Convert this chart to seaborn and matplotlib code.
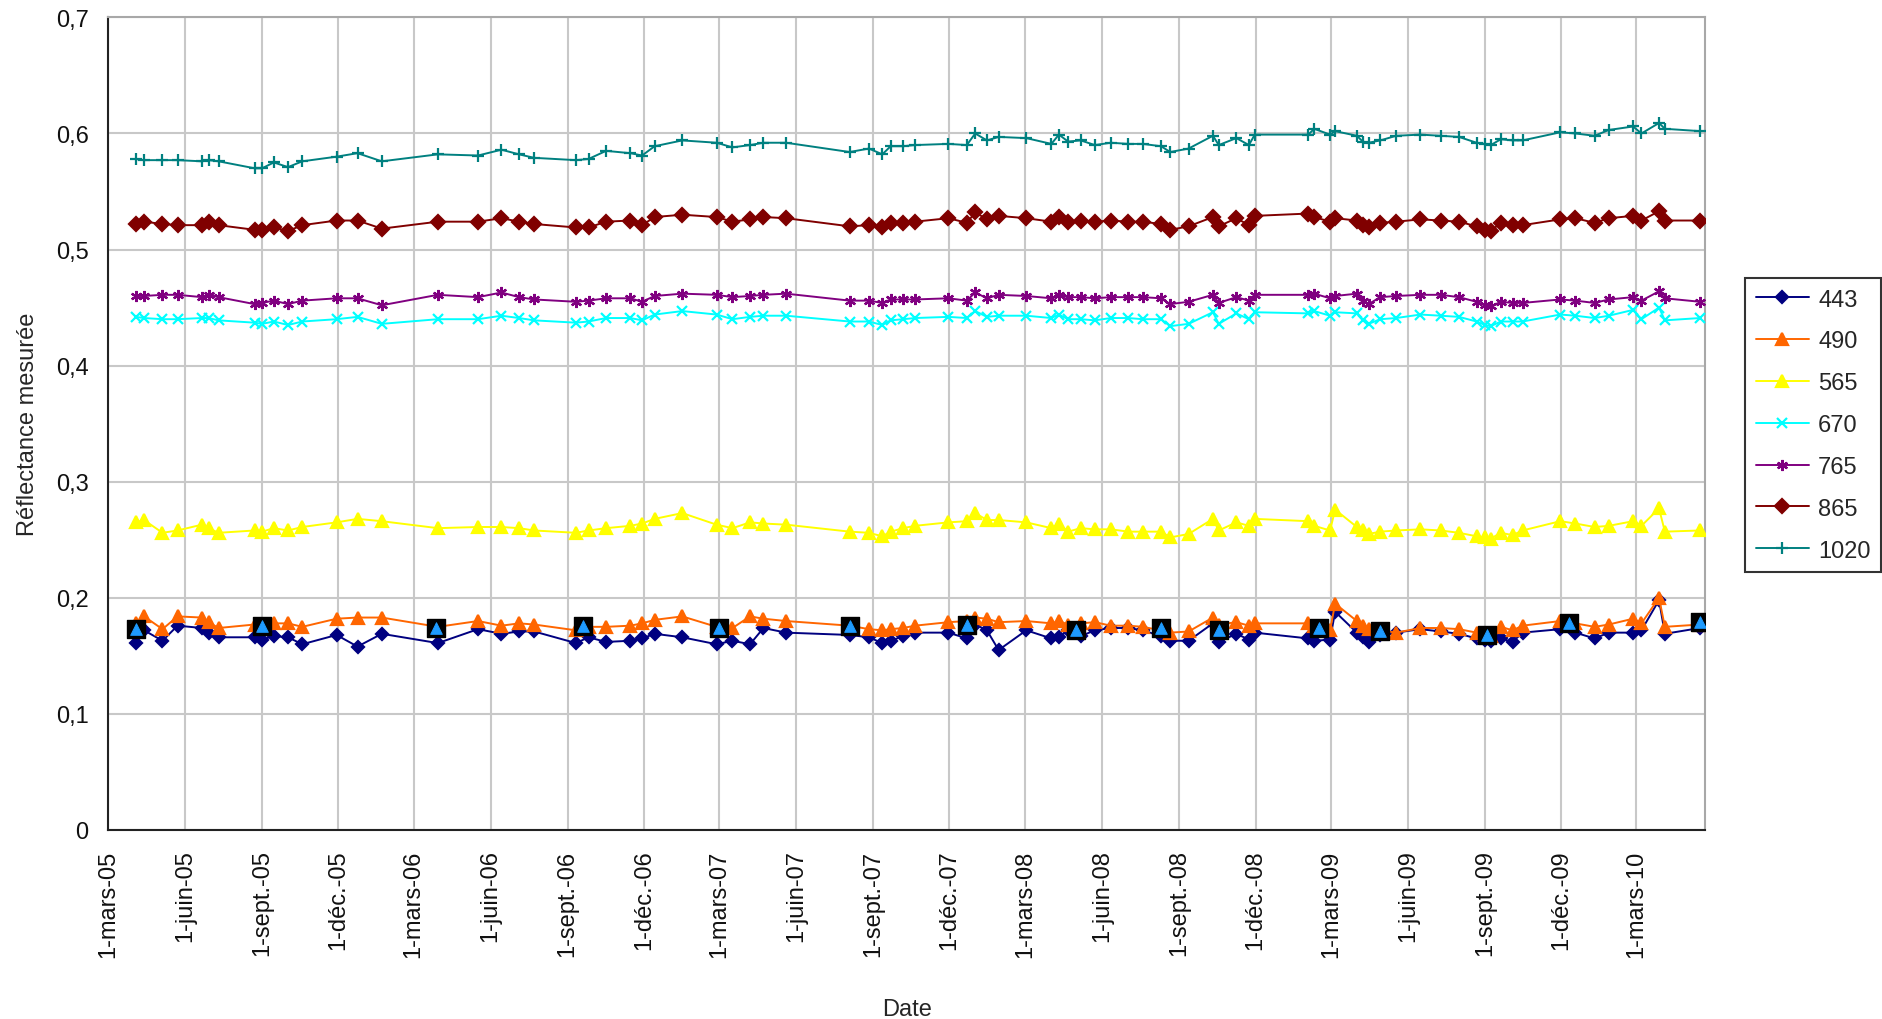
import matplotlib
matplotlib.use("Agg")
import matplotlib.pyplot as plt
import seaborn as sns
import pandas as pd

# ---------------- data ----------------
dates = [
    "2005-04-03", "2005-04-13", "2005-05-05", "2005-05-23", "2005-06-21", "2005-06-29", "2005-07-11",
    "2005-08-23", "2005-09-01", "2005-09-15", "2005-10-02", "2005-10-19", "2005-11-29", "2005-12-24",
    "2006-01-22", "2006-03-30", "2006-05-17", "2006-06-14", "2006-07-05", "2006-07-23", "2006-09-11",
    "2006-09-26", "2006-10-17", "2006-11-15", "2006-11-29", "2006-12-14",
    "2007-01-16", "2007-02-26", "2007-03-17", "2007-04-07", "2007-04-23", "2007-05-20", "2007-08-04",
    "2007-08-27", "2007-09-12", "2007-09-22", "2007-10-07", "2007-10-21", "2007-11-30", "2007-12-22",
    "2008-01-01", "2008-01-15", "2008-01-29", "2008-03-02", "2008-04-01", "2008-04-10", "2008-04-21",
    "2008-05-06", "2008-05-23", "2008-06-11", "2008-07-02", "2008-07-19", "2008-08-10", "2008-08-21",
    "2008-09-12", "2008-10-11", "2008-10-18", "2008-11-08", "2008-11-23", "2008-11-30",
    "2009-02-02", "2009-02-09", "2009-02-28", "2009-03-06", "2009-04-01", "2009-04-08", "2009-04-15",
    "2009-04-29", "2009-05-18", "2009-06-16", "2009-07-10", "2009-08-01", "2009-08-22", "2009-09-01",
    "2009-09-08", "2009-09-20", "2009-10-04", "2009-10-16", "2009-11-30", "2009-12-18",
    "2010-01-10", "2010-01-27", "2010-02-25", "2010-03-07", "2010-03-28", "2010-04-04", "2010-05-16",
]

r443 = [0.161, 0.172, 0.163, 0.176, 0.174, 0.170, 0.166, 0.166, 0.164, 0.167, 0.166, 0.160, 0.168, 0.158,
        0.169, 0.161, 0.173, 0.169, 0.171, 0.171, 0.161, 0.166, 0.162, 0.163, 0.165, 0.169,
        0.166, 0.160, 0.163, 0.160, 0.174, 0.170, 0.168, 0.166, 0.161, 0.163, 0.167, 0.170, 0.170, 0.165,
        0.177, 0.172, 0.155, 0.172, 0.165, 0.166, 0.172, 0.167, 0.172, 0.174, 0.174, 0.172, 0.167, 0.163,
        0.163, 0.178, 0.162, 0.169, 0.164, 0.170,
        0.165, 0.163, 0.164, 0.188, 0.170, 0.166, 0.162, 0.168, 0.170, 0.173, 0.171, 0.169, 0.165, 0.164,
        0.163, 0.165, 0.162, 0.170, 0.173, 0.170,
        0.165, 0.170, 0.170, 0.172, 0.198, 0.169, 0.174]

r490 = [0.178, 0.184, 0.173, 0.184, 0.183, 0.179, 0.174, 0.177, 0.176, 0.178, 0.178, 0.175, 0.182, 0.183,
        0.183, 0.175, 0.180, 0.176, 0.178, 0.177, 0.172, 0.175, 0.175, 0.176, 0.178, 0.181,
        0.184, 0.175, 0.174, 0.184, 0.182, 0.180, 0.176, 0.173, 0.172, 0.173, 0.174, 0.176, 0.179, 0.180,
        0.183, 0.182, 0.179, 0.180, 0.178, 0.180, 0.177, 0.178, 0.179, 0.176, 0.176, 0.175, 0.172, 0.170,
        0.171, 0.183, 0.177, 0.179, 0.176, 0.178,
        0.178, 0.176, 0.172, 0.195, 0.180, 0.176, 0.173, 0.172, 0.170, 0.174, 0.174, 0.173, 0.170, 0.168,
        0.167, 0.175, 0.172, 0.176, 0.180, 0.178,
        0.175, 0.177, 0.182, 0.178, 0.200, 0.175, 0.177]

r565 = [0.265, 0.267, 0.256, 0.258, 0.263, 0.260, 0.256, 0.258, 0.257, 0.260, 0.258, 0.261, 0.265, 0.268,
        0.266, 0.260, 0.261, 0.261, 0.260, 0.258, 0.256, 0.258, 0.260, 0.262, 0.264, 0.268,
        0.273, 0.263, 0.260, 0.265, 0.264, 0.263, 0.257, 0.256, 0.253, 0.257, 0.260, 0.262, 0.265, 0.266,
        0.273, 0.267, 0.267, 0.265, 0.260, 0.264, 0.257, 0.260, 0.259, 0.259, 0.257, 0.257, 0.257, 0.252,
        0.255, 0.268, 0.258, 0.265, 0.262, 0.268,
        0.266, 0.262, 0.258, 0.276, 0.261, 0.258, 0.255, 0.257, 0.258, 0.259, 0.258, 0.256, 0.253, 0.252,
        0.251, 0.256, 0.254, 0.258, 0.266, 0.264,
        0.261, 0.262, 0.266, 0.262, 0.277, 0.257, 0.258]

r670 = [0.442, 0.441, 0.440, 0.440, 0.441, 0.441, 0.439, 0.437, 0.436, 0.438, 0.435, 0.438, 0.440, 0.442,
        0.436, 0.440, 0.440, 0.443, 0.441, 0.439, 0.437, 0.438, 0.441, 0.441, 0.439, 0.444,
        0.447, 0.444, 0.440, 0.442, 0.443, 0.443, 0.438, 0.438, 0.435, 0.439, 0.440, 0.441, 0.442, 0.441,
        0.447, 0.442, 0.443, 0.443, 0.441, 0.444, 0.440, 0.440, 0.439, 0.441, 0.441, 0.440, 0.440, 0.434,
        0.436, 0.446, 0.436, 0.445, 0.440, 0.446,
        0.445, 0.447, 0.443, 0.446, 0.445, 0.439, 0.436, 0.440, 0.441, 0.444, 0.443, 0.442, 0.438, 0.435,
        0.434, 0.438, 0.438, 0.438, 0.444, 0.443,
        0.441, 0.443, 0.448, 0.440, 0.450, 0.439, 0.441]

r765 = [0.460, 0.460, 0.461, 0.461, 0.459, 0.461, 0.459, 0.453, 0.454, 0.456, 0.453, 0.456, 0.458, 0.458,
        0.452, 0.461, 0.459, 0.463, 0.459, 0.457, 0.455, 0.456, 0.458, 0.458, 0.455, 0.460,
        0.462, 0.461, 0.459, 0.460, 0.461, 0.462, 0.456, 0.456, 0.454, 0.457, 0.457, 0.457, 0.458, 0.456,
        0.463, 0.458, 0.461, 0.460, 0.458, 0.461, 0.459, 0.459, 0.458, 0.459, 0.459, 0.459, 0.458, 0.453,
        0.455, 0.461, 0.454, 0.459, 0.456, 0.461,
        0.461, 0.462, 0.458, 0.460, 0.462, 0.456, 0.453, 0.459, 0.460, 0.461, 0.461, 0.459, 0.455, 0.452,
        0.451, 0.455, 0.454, 0.454, 0.457, 0.456,
        0.454, 0.457, 0.459, 0.456, 0.464, 0.458, 0.455]

r865 = [0.522, 0.524, 0.522, 0.521, 0.521, 0.524, 0.521, 0.517, 0.517, 0.519, 0.516, 0.521, 0.525, 0.525,
        0.518, 0.524, 0.524, 0.527, 0.524, 0.522, 0.519, 0.519, 0.524, 0.525, 0.521, 0.528,
        0.530, 0.528, 0.524, 0.526, 0.528, 0.527, 0.520, 0.521, 0.519, 0.523, 0.523, 0.524, 0.527, 0.523,
        0.532, 0.526, 0.529, 0.527, 0.524, 0.528, 0.524, 0.525, 0.524, 0.525, 0.524, 0.524, 0.522, 0.517,
        0.520, 0.528, 0.520, 0.527, 0.521, 0.529,
        0.531, 0.528, 0.524, 0.527, 0.525, 0.521, 0.519, 0.523, 0.524, 0.526, 0.525, 0.524, 0.520, 0.517,
        0.516, 0.523, 0.521, 0.521, 0.526, 0.527,
        0.523, 0.527, 0.529, 0.525, 0.533, 0.525, 0.525]

r1020 = [0.578, 0.577, 0.577, 0.577, 0.576, 0.577, 0.576, 0.570, 0.570, 0.575, 0.571, 0.576, 0.580, 0.583,
         0.576, 0.582, 0.581, 0.586, 0.582, 0.579, 0.577, 0.578, 0.585, 0.583, 0.581, 0.589,
         0.594, 0.592, 0.588, 0.590, 0.592, 0.592, 0.584, 0.587, 0.582, 0.589, 0.589, 0.590, 0.591, 0.590,
         0.600, 0.594, 0.597, 0.596, 0.591, 0.599, 0.593, 0.594, 0.590, 0.592, 0.591, 0.591, 0.589, 0.584,
         0.587, 0.598, 0.590, 0.596, 0.590, 0.599,
         0.599, 0.604, 0.599, 0.602, 0.598, 0.593, 0.592, 0.594, 0.598, 0.599, 0.598, 0.597, 0.592, 0.591,
         0.590, 0.595, 0.594, 0.594, 0.601, 0.600,
         0.598, 0.603, 0.606, 0.600, 0.609, 0.604, 0.602]

# reference points (black squares with blue triangles, not in legend)
ref_dates = ["2005-04-03", "2005-09-01", "2006-03-28", "2006-09-20", "2007-03-01", "2007-08-04",
             "2007-12-22", "2008-05-01", "2008-08-10", "2008-10-18", "2009-02-15", "2009-04-29",
             "2009-09-04", "2009-12-10", "2010-05-16"]
ref_vals = [0.173, 0.176, 0.174, 0.176, 0.174, 0.176, 0.177, 0.172, 0.174, 0.172, 0.174, 0.171,
            0.168, 0.178, 0.179]

series_names = ["443", "490", "565", "670", "765", "865", "1020"]
series_vals = [r443, r490, r565, r670, r765, r865, r1020]

tick_dates = ["2005-03-01", "2005-06-01", "2005-09-01", "2005-12-01", "2006-03-01", "2006-06-01",
              "2006-09-01", "2006-12-01", "2007-03-01", "2007-06-01", "2007-09-01", "2007-12-01",
              "2008-03-01", "2008-06-01", "2008-09-01", "2008-12-01", "2009-03-01", "2009-06-01",
              "2009-09-01", "2009-12-01", "2010-03-01"]
tick_labels = ["1-mars-05", "1-juin-05", "1-sept.-05", "1-déc.-05", "1-mars-06", "1-juin-06",
               "1-sept.-06", "1-déc.-06", "1-mars-07", "1-juin-07", "1-sept.-07", "1-déc.-07",
               "1-mars-08", "1-juin-08", "1-sept.-08", "1-déc.-08", "1-mars-09", "1-juin-09",
               "1-sept.-09", "1-déc.-09", "1-mars-10"]
y_ticks = [0, 0.1, 0.2, 0.3, 0.4, 0.5, 0.6, 0.7]
y_labels = ["0", "0,1", "0,2", "0,3", "0,4", "0,5", "0,6", "0,7"]

# ---------------- style ----------------
sns.set_theme(style="white")
plt.rcParams["font.family"] = ["Liberation Sans", "DejaVu Sans"]

styles = {
    "443": dict(color="#000080", marker="D", ms=6.5),
    "490": dict(color="#FF6600", marker="^", ms=8),
    "565": dict(color="#FFFF00", marker="^", ms=8),
    "670": dict(color="#00FFFF", marker="x", ms=7),
    "765": dict(color="#800080", marker=(6, 2, 0), ms=8),
    "865": dict(color="#800000", marker="D", ms=7),
    "1020": dict(color="#008080", marker="+", ms=9),
}

fig = plt.figure(figsize=(18.83, 10.20), dpi=100)
ax = fig.add_axes([0.0574, 0.1853, 0.8481, 0.7967])

df = pd.DataFrame({"date": pd.to_datetime(dates)})
for name, vals in zip(series_names, series_vals):
    st = styles[name]
    sns.lineplot(x=df["date"], y=vals, ax=ax, color=st["color"], marker=st["marker"],
                 markersize=st["ms"], markeredgecolor=st["color"], markerfacecolor=st["color"],
                 markeredgewidth=1.6, linewidth=1.4, label=name, zorder=3)

rdf = pd.DataFrame({"date": pd.to_datetime(ref_dates), "val": ref_vals})
sns.scatterplot(data=rdf, x="date", y="val", ax=ax, marker="s", s=150, color="black",
                edgecolor="black", zorder=5, legend=False)
sns.scatterplot(data=rdf, x="date", y="val", ax=ax, marker="^", s=70, color="#1E9BFF",
                edgecolor="#1E9BFF", zorder=6, legend=False)

handles, labels = ax.get_legend_handles_labels()
if ax.get_legend() is not None:
    ax.get_legend().remove()

ax.set_xlim(pd.Timestamp("2005-03-01"), pd.Timestamp("2010-05-22"))
ax.set_ylim(0, 0.7)
ax.set_xticks(pd.to_datetime(tick_dates))
ax.set_xticklabels(tick_labels, rotation=90, fontsize=17)
ax.set_yticks(y_ticks)
ax.set_yticklabels(y_labels, fontsize=17, color="#111111")
ax.tick_params(axis="both", direction="out", length=8, width=1.3, color="black", pad=6)
ax.tick_params(axis="x", colors="#111111")

ax.grid(True, color="#c8c8c8", linewidth=1.5)
ax.set_axisbelow(True)
for side in ["left", "bottom"]:
    ax.spines[side].set_color("#222222")
    ax.spines[side].set_linewidth(1.5)
for side in ["top", "right"]:
    ax.spines[side].set_color("#a8a8a8")
    ax.spines[side].set_linewidth(1.5)

ax.set_xlabel("Date", fontsize=17, labelpad=30)
ax.set_ylabel("Réflectance mesurée", fontsize=17, labelpad=12)

leg = fig.legend(handles, labels, loc="upper left", bbox_to_anchor=(0.9267, 0.7265),
                 borderaxespad=0, fontsize=17, frameon=True, fancybox=False, edgecolor="black",
                 handlelength=2.25, labelspacing=0.84, borderpad=0.45, handletextpad=0.4)
leg.get_frame().set_linewidth(1.5)

fig.savefig("out.png", dpi=100, facecolor="white")
